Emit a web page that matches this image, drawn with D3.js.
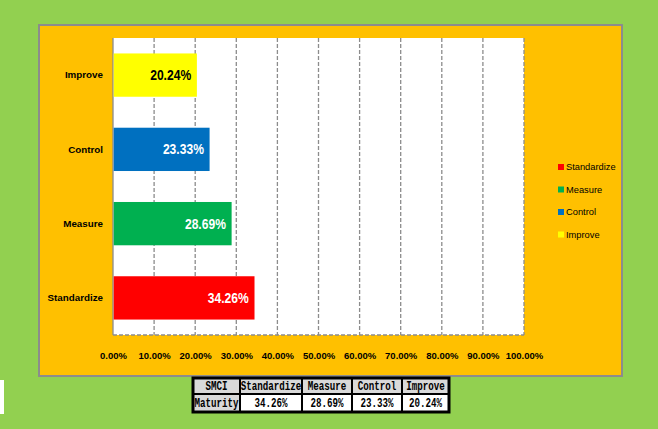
<!DOCTYPE html>
<html>
<head>
<meta charset="utf-8">
<script src="https://cdn.jsdelivr.net/npm/d3@7"></script>
<style>
  body { margin: 0; background: #92D050; }
  svg { display: block; }
  .lbl { font-family: "Liberation Sans", Arial, sans-serif; }
  .tbl { font-family: "Liberation Mono", "DejaVu Sans Mono", monospace; font-weight: bold; }
</style>
</head>
<body>
<script>
// chart data
var categories = ["Standardize", "Measure", "Control", "Improve"];
var values = [34.26, 28.69, 23.33, 20.24];
var colors = ["#FF0000", "#00B050", "#0070C0", "#FFFF00"];
var labelColors = ["#ffffff", "#ffffff", "#ffffff", "#000000"];
var xTicks = [0, 10, 20, 30, 40, 50, 60, 70, 80, 90, 100];
var tableHeader = ["SMCI", "Standardize", "Measure", "Control", "Improve"];
var tableRow = ["Maturity", "34.26%", "28.69%", "23.33%", "20.24%"];

var data = categories.map(function (c, i) {
  return { name: c, value: values[i], color: colors[i], lc: labelColors[i] };
});

var W = 658, H = 429;
var svg = d3.select("body").append("svg")
  .attr("width", W)
  .attr("height", H);

// page background
svg.append("rect").attr("width", W).attr("height", H).attr("fill", "#92D050");
svg.append("rect").attr("x", 0).attr("y", 380).attr("width", 4).attr("height", 34).attr("fill", "#ffffff");

// chart area
svg.append("rect")
  .attr("x", 39).attr("y", 25).attr("width", 583).attr("height", 351)
  .attr("fill", "#FFC000")
  .attr("stroke", "#8c8c8c").attr("stroke-width", 2);

// plot area
var margin = { left: 113, top: 38 },
  width = 411, height = 297;

var g = svg.append("g")
  .attr("transform", "translate(" + margin.left + "," + margin.top + ")");

var x = d3.scaleLinear().domain([0, 100]).range([0, width]);
var y = d3.scaleBand()
  .domain(categories.slice().reverse())
  .range([0, height])
  .paddingInner(0.417)
  .paddingOuter(0.208);

g.append("rect")
  .attr("width", width).attr("height", height)
  .attr("fill", "#ffffff");

// dashed gridlines
g.selectAll(".grid")
  .data(xTicks.slice(1))
  .enter().append("line")
  .attr("x1", function (d) { return x(d); })
  .attr("x2", function (d) { return x(d); })
  .attr("y1", 0).attr("y2", height)
  .attr("stroke", "#8c8c8c")
  .attr("stroke-width", 1.3)
  .attr("stroke-dasharray", "4,2");

g.append("line")
  .attr("x1", 0).attr("x2", width)
  .attr("y1", height).attr("y2", height)
  .attr("stroke", "#8c8c8c")
  .attr("stroke-width", 1.3)
  .attr("stroke-dasharray", "4,2");

g.append("line")
  .attr("x1", 0).attr("x2", 0)
  .attr("y1", 0).attr("y2", height)
  .attr("stroke", "#8c8c8c")
  .attr("stroke-width", 1.3);

// bars
g.selectAll(".bar")
  .data(data)
  .enter().append("rect")
  .attr("x", x(0) + 0.7)
  .attr("y", function (d) { return y(d.name); })
  .attr("width", function (d) { return x(d.value) - x(0); })
  .attr("height", y.bandwidth())
  .attr("fill", function (d) { return d.color; });

// value labels
g.selectAll(".val")
  .data(data)
  .enter().append("text")
  .attr("class", "lbl")
  .attr("x", function (d) { return x(d.value) - 5; })
  .attr("y", function (d) { return y(d.name) + y.bandwidth() / 2; })
  .attr("dy", "0.36em")
  .attr("text-anchor", "end")
  .attr("font-size", 14)
  .attr("font-weight", "bold")
  .attr("textLength", 41)
  .attr("lengthAdjust", "spacingAndGlyphs")
  .attr("fill", function (d) { return d.lc; })
  .text(function (d) { return d.value.toFixed(2) + "%"; });

// category axis
var yAxis = g.append("g")
  .call(d3.axisLeft(y).tickSize(0).tickPadding(10));
yAxis.select(".domain").remove();
yAxis.selectAll("text")
  .attr("class", "lbl")
  .attr("font-size", 9.8)
  .attr("font-weight", "bold")
  .attr("fill", "#000");

// value axis
var xAxis = g.append("g")
  .attr("transform", "translate(0," + height + ")")
  .call(d3.axisBottom(x).tickValues(xTicks).tickSize(0).tickPadding(17)
    .tickFormat(function (d) { return d.toFixed(2) + "%"; }));
xAxis.select(".domain").remove();
xAxis.selectAll("text")
  .attr("class", "lbl")
  .attr("font-size", 9.5)
  .attr("font-weight", "bold")
  .attr("fill", "#000");

// legend
var legend = svg.append("g").attr("transform", "translate(558,167)");
var li = legend.selectAll(".li")
  .data(data)
  .enter().append("g")
  .attr("transform", function (d, i) { return "translate(0," + (i * 22.5) + ")"; });
li.append("rect")
  .attr("x", 0).attr("y", -3)
  .attr("width", 6).attr("height", 6)
  .attr("fill", function (d) { return d.color; });
li.append("text")
  .attr("class", "lbl")
  .attr("x", 8)
  .attr("dy", "0.35em")
  .attr("font-size", 9.3)
  .attr("fill", "#000")
  .text(function (d) { return d.name; });

// data table
var colX = [193, 240, 302, 352, 402, 449];
var rowY = [378, 394, 412];
var tbl = svg.append("g");
[tableHeader, tableRow].forEach(function (row, r) {
  row.forEach(function (txt, c) {
    var gray = r === 0 || c === 0;
    var cx = (colX[c] + colX[c + 1]) / 2, cy = (rowY[r] + rowY[r + 1]) / 2;
    tbl.append("rect")
      .attr("x", colX[c]).attr("y", rowY[r])
      .attr("width", colX[c + 1] - colX[c]).attr("height", rowY[r + 1] - rowY[r])
      .attr("fill", gray ? "#D9D9D9" : "#ffffff")
      .attr("stroke", "#000").attr("stroke-width", 2);
    tbl.append("text")
      .attr("class", "tbl")
      .attr("transform", "translate(" + cx + "," + cy + ") scale(1,1.3)")
      .attr("dy", "0.36em")
      .attr("text-anchor", "middle")
      .attr("font-size", 9.2)
      .attr("fill", "#000")
      .text(txt);
  });
});
tbl.append("rect")
  .attr("x", colX[0]).attr("y", rowY[0])
  .attr("width", colX[5] - colX[0]).attr("height", rowY[2] - rowY[0])
  .attr("fill", "none")
  .attr("stroke", "#000").attr("stroke-width", 3);
</script>
</body>
</html>
